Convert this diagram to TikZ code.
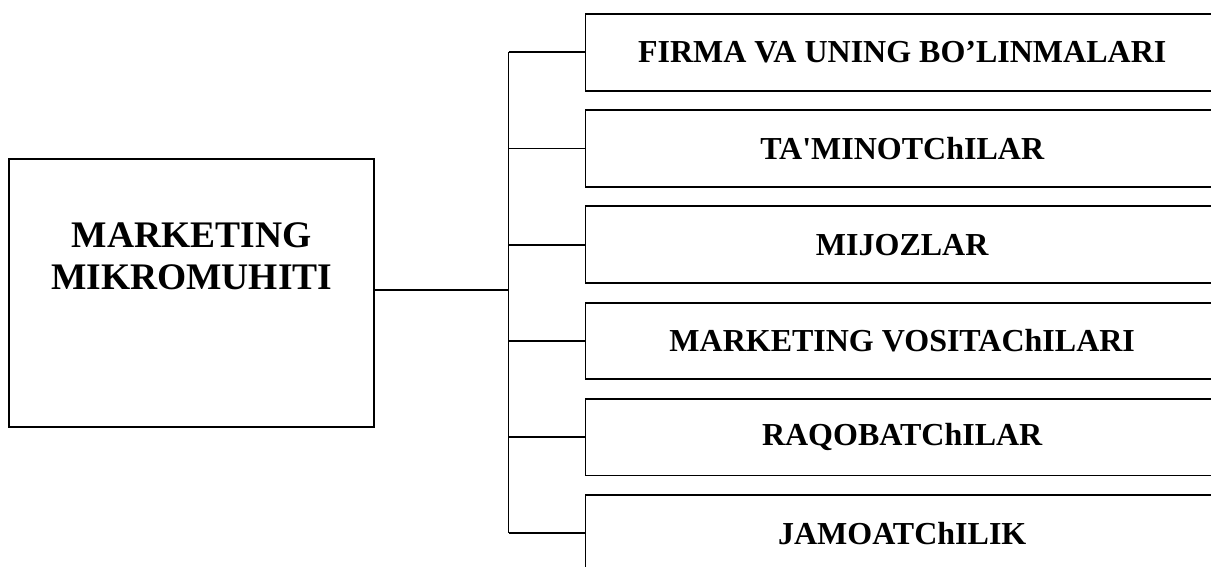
\documentclass[tikz,border=0pt]{standalone}
\usepackage{fontspec}
\setmainfont{Liberation Serif}
\begin{document}
\begin{tikzpicture}[x=1pt,y=-1pt,
  box/.style={draw, line width=1.8pt, inner sep=0pt},
  itembox/.style={box, minimum width=633.5pt, minimum height=76.7pt,
    font=\bfseries\fontsize{32}{36}\selectfont},
  conn/.style={line width=1.8pt}]
\useasboundingbox (0,0) rectangle (1211,567);
\node[box, minimum width=365pt, minimum height=268.3pt] (m) at (191.7,293.2) {};
\node[anchor=north, inner sep=0pt, align=center,
  font=\bfseries\fontsize{37.5}{42}\selectfont] (mt) at (191.7,222) {MARKETING\\MIKROMUHITI};
\node[itembox] (b1) at (902.2,52.35) {FIRMA VA UNING BO’LINMALARI};
\node[itembox] (b2) at (902.2,148.55) {TA\textquotesingle MINOTChILAR};
\node[itembox] (b3) at (902.2,244.75) {MIJOZLAR};
\node[itembox] (b4) at (902.2,340.95) {MARKETING VOSITAChILARI};
\node[itembox] (b5) at (902.2,437.15) {RAQOBATChILAR};
\node[itembox] (b6) at (902.2,533.35) {JAMOATChILIK};
\coordinate (tx) at (508.5,290);
\draw[conn] (m.east |- tx) -- (tx);
\draw[conn] (b1.west -| tx) -- (b6.west -| tx);
\foreach \i in {1,...,6} {
  \draw[conn] (b\i.west -| tx) -- (b\i.west);
}
\end{tikzpicture}
\end{document}
